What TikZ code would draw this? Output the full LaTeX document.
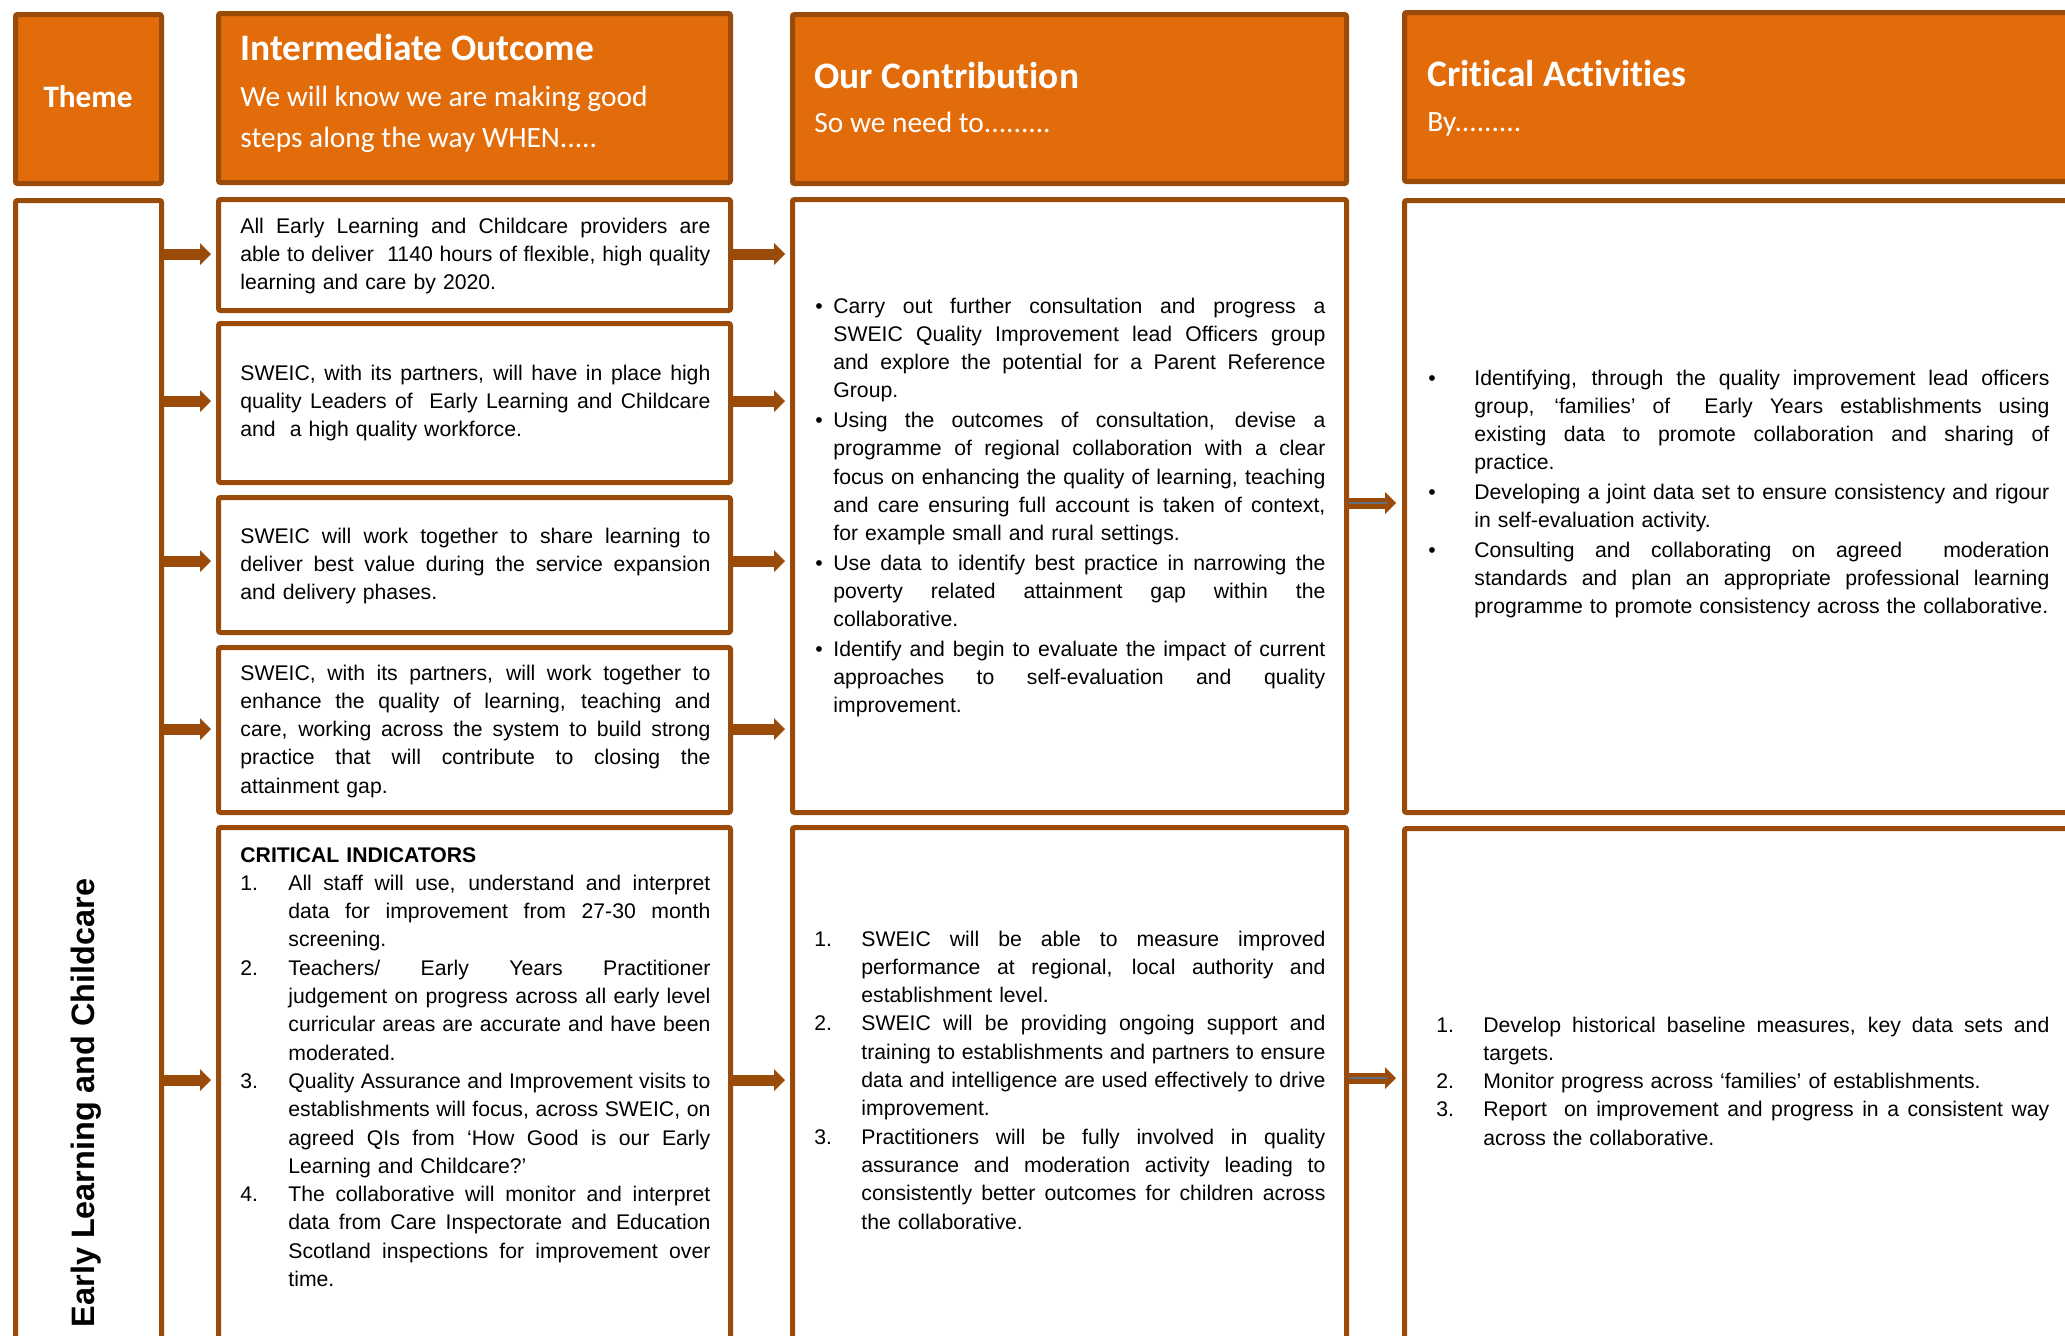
\documentclass[tikz,border=0pt]{standalone}
\usepackage{fontspec}
\setmainfont{Liberation Sans}
\newfontfamily\hfont[Ligatures=NoCommon]{Carlito}
\usetikzlibrary{arrows.meta,fit}
\definecolor{orng}{HTML}{E36C0A}
\definecolor{brn}{HTML}{9A4A09}
\definecolor{gline}{HTML}{5F6F80}
\newcommand\JL[1]{\hbox to \hsize{\spaceskip=0.278em plus 1fil minus 0.1em #1}\par}
\newcommand\LL[1]{\mbox{\strut#1}}
\newcommand\Item[3]{\makebox[#2][l]{#1}\parbox[t]{\dimexpr\hsize-#2\relax}{#3}\par\prevdepth=\dp\strutbox}
\tikzset{
  box/.style={draw=brn, line width=2.5pt, fill=white, inner sep=0pt, rounded corners=1pt},
  hdr/.style={box, fill=orng},
  conn/.style={draw=brn, line width=5.5pt, -{Triangle[width=11pt,length=5.5pt,line width=0pt]}, shorten >=2.5pt},
  body/.style={inner sep=0pt, anchor=base west, font=\fontsize{10.6pt}{14.15pt}\selectfont},
  htitle/.style={inner sep=0pt, anchor=base west, text=white, font=\hfont\bfseries\fontsize{18.7pt}{22pt}\selectfont},
  hsub/.style={inner sep=0pt, anchor=base west, text=white, font=\hfont\fontsize{14.7pt}{18pt}\selectfont},
}
\begin{document}
\begin{tikzpicture}[x=0.5pt,y=-0.5pt]
\useasboundingbox (0,0) rectangle (2065,1335);
\clip (0,0) rectangle (2065,1335);

% boxes
\node[hdr, fit={(15.5,14.5)(161.5,183.5)}] (themeH) {};
\node[box, fit={(15.5,200.5)(161.5,1420)}] (themeB) {};
\node[hdr, fit={(218.5,13.5)(730.5,182.5)}] (ioH) {};
\node[box, fit={(218.5,199.5)(730.5,310.5)}] (io1) {};
\node[box, fit={(218.5,323.5)(730.5,482.5)}] (io2) {};
\node[box, fit={(218.5,497.5)(730.5,632.5)}] (io3) {};
\node[box, fit={(218.5,647.5)(730.5,812.5)}] (io4) {};
\node[box, fit={(218.5,827.5)(730.5,1420)}] (io5) {};
\node[hdr, fit={(792.5,14.5)(1346.5,183.5)}] (coH) {};
\node[box, fit={(792.5,199.5)(1346.5,812.5)}] (co1) {};
\node[box, fit={(792.5,827.5)(1346.5,1420)}] (co2) {};
\node[hdr, fit={(1404.5,12.5)(2120,181.5)}] (crH) {};
\node[box, fit={(1404.5,200.5)(2120,812.5)}] (cr1) {};
\node[box, fit={(1404.5,828.5)(2120,1420)}] (cr2) {};

% header texts
\node[inner sep=0pt, anchor=base, text=white, font=\hfont\bfseries\fontsize{15.6pt}{18pt}\selectfont] (themeT) at (88,107) {Theme};
\node[htitle] (ioT) at (240,60) {Intermediate Outcome};
\node[hsub] (ioS1) at (240,106) {We will know we are making good};
\node[hsub] (ioS2) at (240,147) {steps along the way WHEN.....};
\node[htitle] (coT) at (814,88) {Our Contribution};
\node[hsub] (coS) at (814,132) {So we need to.........};
\node[htitle] (crT) at (1427,86) {Critical Activities};
\node[hsub] (crS) at (1427,131) {By.........};

% theme vertical
\node[rotate=90, inner sep=0pt, font=\bfseries\fontsize{16.2pt}{19pt}\selectfont] (themeV) at (86,1103) {Early Learning and Childcare};

% intermediate outcome texts
\node[body, text width=235pt] (io1t) at (240,233) {%
\JL{All Early Learning and Childcare providers are}
\JL{able to deliver\ \ 1140 hours of flexible, high quality}
\LL{learning and care by 2020.}};
\node[body, text width=235pt] (io2t) at (240,380) {%
\JL{SWEIC, with its partners, will have in place high}
\JL{quality Leaders of\ \ Early Learning and Childcare}
\LL{and\ \ a high quality workforce.}};
\node[body, text width=235pt] (io3t) at (240,543) {%
\JL{SWEIC will work together to share learning to}
\JL{deliver best value during the service expansion}
\LL{and delivery phases.}};
\node[body, text width=235pt] (io4t) at (240,680) {%
\JL{SWEIC, with its partners, will work together to}
\JL{enhance the quality of learning, teaching and}
\JL{care, working across the system to build strong}
\JL{practice that will contribute to closing the}
\LL{attainment gap.}};
\node[body, text width=235pt] (io5t) at (240,862) {%
\textbf{CRITICAL INDICATORS}\par
\Item{1.}{24pt}{\JL{All staff will use, understand and interpret}\JL{data for improvement from 27-30 month}\LL{screening.}}
\Item{2.}{24pt}{\JL{Teachers/ Early Years Practitioner}\JL{judgement on progress across all early level}\JL{curricular areas are accurate and have been}\LL{moderated.}}
\Item{3.}{24pt}{\JL{Quality Assurance and Improvement visits to}\JL{establishments will focus, across SWEIC, on}\JL{agreed QIs from ‘How Good is our Early}\LL{Learning and Childcare?’}}
\Item{4.}{24pt}{\JL{The collaborative will monitor and interpret}\JL{data from Care Inspectorate and Education}\JL{Scotland inspections for improvement over}\LL{time.}}};

% contribution texts
\node[body, text width=255pt] (co1t) at (815,313) {\setlength{\parskip}{0.6pt}%
\Item{•}{9pt}{\JL{Carry out further consultation and progress a}\JL{SWEIC Quality Improvement lead Officers group}\JL{and explore the potential for a Parent Reference}\LL{Group.}}
\Item{•}{9pt}{\JL{Using the outcomes of consultation, devise a}\JL{programme of regional collaboration with a clear}\JL{focus on enhancing the quality of learning, teaching}\JL{and care ensuring full account is taken of context,}\LL{for example small and rural settings.}}
\Item{•}{9pt}{\JL{Use data to identify best practice in narrowing the}\JL{poverty related attainment gap within the}\LL{collaborative.}}
\Item{•}{9pt}{\JL{Identify and begin to evaluate the impact of current}\JL{approaches to self-evaluation and quality}\LL{improvement.}}};
\node[body, text width=255.5pt] (co2t) at (814,946) {%
\Item{1.}{23.5pt}{\JL{SWEIC will be able to measure improved}\JL{performance at regional, local authority and}\LL{establishment level.}}
\Item{2.}{23.5pt}{\JL{SWEIC will be providing ongoing support and}\JL{training to establishments and partners to ensure}\JL{data and intelligence are used effectively to drive}\LL{improvement.}}
\Item{3.}{23.5pt}{\JL{Practitioners will be fully involved in quality}\JL{assurance and moderation activity leading to}\JL{consistently better outcomes for children across}\LL{the collaborative.}}};

% critical activity texts
\node[body, text width=310.5pt] (cr1t) at (1428,385) {\setlength{\parskip}{0.6pt}%
\Item{•}{23pt}{\JL{Identifying, through the quality improvement lead officers}\JL{group, ‘families’ of\ \ Early Years establishments using}\JL{existing data to promote collaboration and sharing of}\LL{practice.}}
\Item{•}{23pt}{\JL{Developing a joint data set to ensure consistency and rigour}\LL{in self-evaluation activity.}}
\Item{•}{23pt}{\JL{Consulting and collaborating on agreed\ \ moderation}\JL{standards and plan an appropriate professional learning}\LL{programme to promote consistency across the collaborative.}}};
\node[body, text width=306.5pt] (cr2t) at (1436,1032) {%
\Item{1.}{23.5pt}{\JL{Develop historical baseline measures, key data sets and}\LL{targets.}}
\Item{2.}{23.5pt}{\LL{Monitor progress across ‘families’ of establishments.}}
\Item{3.}{23.5pt}{\JL{Report\ \ on improvement and progress in a consistent way}\LL{across the collaborative.}}};

% arrow levels
\coordinate (L1) at (0,254);
\coordinate (L2) at (0,401);
\coordinate (L3) at (0,561);
\coordinate (L4) at (0,729);
\coordinate (L5) at (0,1080);
\coordinate (R1) at (0,503);
\coordinate (R2) at (0,1078);

\draw[conn] (themeB.east |- L1) -- (io1.west |- L1);
\draw[conn] (themeB.east |- L2) -- (io2.west |- L2);
\draw[conn] (themeB.east |- L3) -- (io3.west |- L3);
\draw[conn] (themeB.east |- L4) -- (io4.west |- L4);
\draw[conn] (themeB.east |- L5) -- (io5.west |- L5);

\draw[conn] (io1.east |- L1) -- (co1.west |- L1);
\draw[conn] (io2.east |- L2) -- (co1.west |- L2);
\draw[conn] (io3.east |- L3) -- (co1.west |- L3);
\draw[conn] (io4.east |- L4) -- (co1.west |- L4);
\draw[conn] (io5.east |- L5) -- (co2.west |- L5);

\draw[conn, shorten >=3pt] (co1.east |- R1) -- (cr1.west |- R1);
\draw[conn, shorten >=3pt] (co2.east |- R2) -- (cr2.west |- R2);
\draw[gline, line width=0.8pt] (co1.east |- R1) -- ++(38,0);
\draw[gline, line width=0.8pt] (co2.east |- R2) -- ++(38,0);
\end{tikzpicture}
\end{document}
